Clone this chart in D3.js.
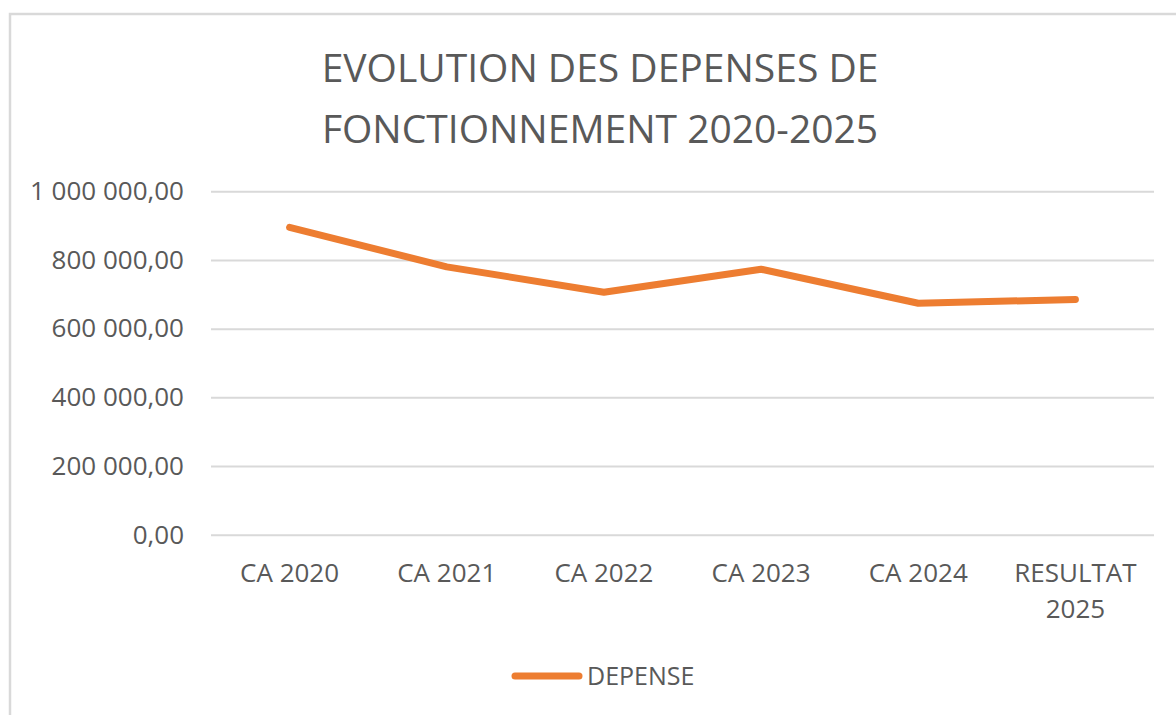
<!DOCTYPE html>
<html>
<head>
<meta charset="utf-8">
<script src="https://cdn.jsdelivr.net/npm/d3@7"></script>
<style>
  body { margin: 0; background: #fff; }
  svg { display: block; font-family: "Open Sans", "Liberation Sans", sans-serif; }
</style>
</head>
<body>
<svg width="1176" height="715"></svg>
<script>
// data
var categories = ["CA 2020", "CA 2021", "CA 2022", "CA 2023", "CA 2024", "RESULTAT 2025"];
var depense = [895000, 780000, 706000, 773000, 674000, 685000];
var yTicks = [0, 200000, 400000, 600000, 800000, 1000000];
var seriesName = "DEPENSE";
var titleLines = ["EVOLUTION DES DEPENSES DE", "FONCTIONNEMENT 2020-2025"];

var textColor = "#595959";
var gridColor = "#d9d9d9";
var lineColor = "#ed7d31";

var svg = d3.select("svg");

// chart frame (right and bottom edges run off the picture)
svg.append("rect")
    .attr("x", 10).attr("y", 14)
    .attr("width", 1200).attr("height", 720)
    .attr("fill", "#fff")
    .attr("stroke", gridColor)
    .attr("stroke-width", 2.5);

// title
svg.append("g").selectAll("text")
    .data(titleLines)
    .enter().append("text")
    .attr("x", 600)
    .attr("y", function (d, i) { return 82 + i * 61; })
    .attr("text-anchor", "middle")
    .attr("fill", textColor)
    .style("font-size", "39px")
    .text(function (d) { return d; });

var x = d3.scaleBand().domain(categories).range([211, 1154]);
var y = d3.scaleLinear().domain([0, 1000000]).range([534.7, 191.3]);

var fr = d3.formatLocale({decimal: ",", thousands: " ", grouping: [3], currency: ["", " €"]});
var fmt = fr.format(",.2f");

// y axis + gridlines
var yAxis = svg.append("g")
    .attr("transform", "translate(211,0)")
    .call(d3.axisLeft(y).tickValues(yTicks).tickFormat(fmt).tickSize(-943).tickPadding(27));
yAxis.select(".domain").remove();
yAxis.selectAll(".tick line").attr("stroke", gridColor).attr("stroke-width", 2);
yAxis.selectAll(".tick text")
    .attr("fill", textColor)
    .style("font-size", "26px")
    .style("font-family", "Open Sans");

// x axis labels
var xAxis = svg.append("g")
    .attr("transform", "translate(0,534.7)")
    .call(d3.axisBottom(x).tickSize(0).tickPadding(0));
xAxis.select(".domain").remove();
xAxis.selectAll(".tick text")
    .attr("fill", textColor)
    .style("font-size", "26px")
    .style("font-family", "Open Sans")
    .attr("y", 47).attr("dy", 0)
    .call(wrap, x.bandwidth() - 10);

function wrap(sel, width) {
    sel.each(function () {
        var t = d3.select(this);
        var words = t.text().split(/\s+/);
        t.text(null);
        var line = [], lineNo = 0;
        var tspan = t.append("tspan").attr("x", 0).attr("y", 47);
        words.forEach(function (w) {
            line.push(w);
            tspan.text(line.join(" "));
            if (tspan.node().getComputedTextLength() > width && line.length > 1) {
                line.pop();
                tspan.text(line.join(" "));
                line = [w];
                lineNo++;
                tspan = t.append("tspan").attr("x", 0).attr("y", 47 + lineNo * 36).text(w);
            }
        });
    });
}

// the line
var line = d3.line()
    .x(function (d, i) { return x(categories[i]) + x.bandwidth() / 2; })
    .y(function (d) { return y(d); });

svg.append("path")
    .datum(depense)
    .attr("d", line)
    .attr("fill", "none")
    .attr("stroke", lineColor)
    .attr("stroke-width", 7)
    .attr("stroke-linejoin", "round")
    .attr("stroke-linecap", "round");

// legend
var legend = svg.append("g").attr("transform", "translate(0,676)");
legend.append("line")
    .attr("x1", 515).attr("x2", 579)
    .attr("stroke", lineColor)
    .attr("stroke-width", 7)
    .attr("stroke-linecap", "round");
legend.append("text")
    .attr("x", 587).attr("y", 9)
    .attr("fill", textColor)
    .style("font-size", "25px")
    .text(seriesName);
</script>
</body>
</html>
